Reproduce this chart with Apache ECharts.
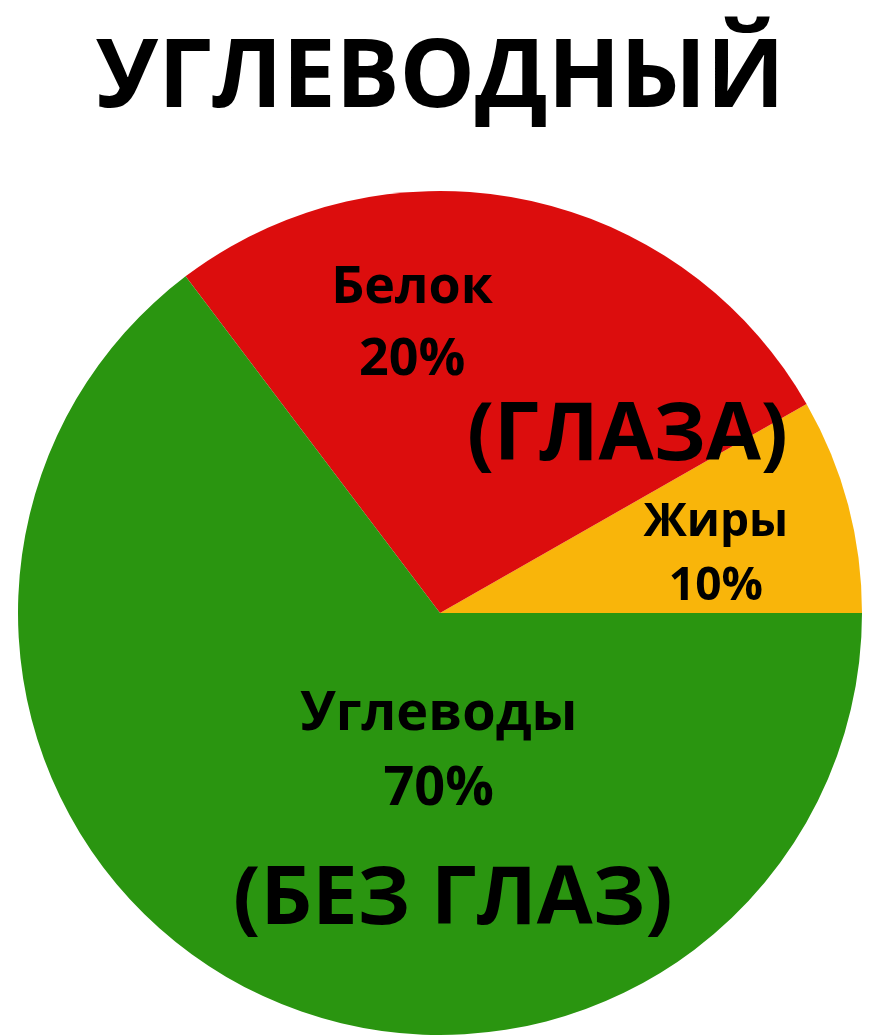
<!DOCTYPE html>
<html>
<head>
<meta charset="utf-8">
<script src="https://cdn.jsdelivr.net/npm/echarts@6/dist/echarts.min.js"></script>
<style>
  html, body { margin: 0; padding: 0; background: #fff; }
  #chart { width: 880px; height: 1036px; }
</style>
</head>
<body>
<div id="chart"></div>
<script>
// slices (angles), labels printed on the picture
const names = ['Жиры', 'Белок', 'Углеводы'];
const values = [8.25, 27.05, 64.7];
const shownPct = ['10%', '20%', '70%'];
const colors = ['#F9B50A', '#DC0D0D', '#2A9510'];
const notes = ['(ГЛАЗА)', '(БЕЗ ГЛАЗ)'];

const FONT = '"Open Sans", "Noto Sans", sans-serif';

// per-slice label tweaks
const labelOffsets = [[69, -3], [-71, -79], [94, -52]];
const labelSizes = [46, 52, 54];
const labelLineHeights = [64, 72, 75];

const myChart = echarts.init(document.getElementById('chart'));

myChart.setOption({
  animation: false,
  title: {
    text: 'УГЛЕВОДНЫЙ',
    left: 'center',
    top: 27,
    textStyle: {
      fontFamily: FONT,
      fontWeight: 'bold',
      fontSize: 95,
      color: '#000',
    },
  },
  series: [
    {
      type: 'pie',
      center: [440, 613],
      radius: 422,
      startAngle: 0,
      clockwise: false,
      label: {
        show: true,
        position: 'inside',
        color: '#000',
        fontFamily: FONT,
        fontWeight: 'bold',
        formatter: (p) => p.name + '\n' + shownPct[p.dataIndex],
      },
      labelLine: { show: false },
      emphasis: { disabled: true },
      data: names.map((name, i) => ({
        name,
        value: values[i],
        itemStyle: { color: colors[i] },
        label: {
          offset: labelOffsets[i],
          fontSize: labelSizes[i],
          lineHeight: labelLineHeights[i],
        },
      })),
    },
  ],
  graphic: [
    {
      type: 'text',
      left: 467,
      top: 397,
      z: 100,
      style: {
        text: notes[0],
        font: 'bold 80px ' + FONT,
        fill: '#000',
      },
    },
    {
      type: 'text',
      left: 233,
      top: 860,
      z: 100,
      style: {
        text: notes[1],
        font: 'bold 81px ' + FONT,
        fill: '#000',
      },
    },
  ],
});
</script>
</body>
</html>
